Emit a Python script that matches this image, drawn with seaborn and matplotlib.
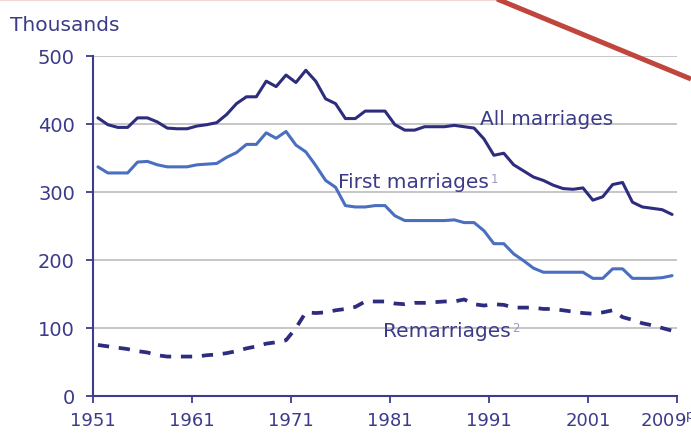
import numpy as np
import pandas as pd
import matplotlib
matplotlib.use("Agg")
import matplotlib.pyplot as plt
import seaborn as sns
from matplotlib.transforms import ScaledTranslation
from matplotlib.lines import Line2D

years = list(range(1951, 2010))
all_marriages = [409, 399, 395, 395, 409, 409, 403, 394, 393, 393,
                 397, 399, 402, 414, 430, 440, 440, 463, 455, 472,
                 461, 479, 463, 437, 430, 408, 408, 419, 419, 419,
                 399, 391, 391, 396, 396, 396, 398, 396, 394, 378,
                 354, 357, 340, 331, 322, 317, 310, 305, 304, 306,
                 288, 293, 311, 314, 285, 278, 276, 274, 267]
first_marriages = [337, 328, 328, 328, 344, 345, 340, 337, 337, 337,
                   340, 341, 342, 351, 358, 370, 370, 387, 379, 389,
                   369, 359, 339, 317, 307, 280, 278, 278, 280, 280,
                   265, 258, 258, 258, 258, 258, 259, 255, 255, 243,
                   224, 224, 209, 199, 188, 182, 182, 182, 182, 182,
                   173, 173, 187, 187, 173, 173, 173, 174, 177]
remarriages = [75, 73, 71, 69, 66, 64, 60, 58, 58, 58,
               58, 60, 61, 63, 66, 70, 73, 77, 79, 82,
               100, 123, 122, 123, 126, 128, 131, 139, 139, 139,
               136, 135, 137, 137, 138, 139, 139, 142, 135, 133,
               135, 134, 130, 130, 130, 128, 128, 126, 124, 122,
               121, 123, 126, 116, 112, 107, 104, 100, 96]
y_ticks = [0, 100, 200, 300, 400, 500]
x_tick_years = [1951, 1961, 1971, 1981, 1991, 2001, 2010]
x_tick_labels = ["1951", "1961", "1971", "1981", "1991", "2001", "2009$^{\\mathrm{p}}$"]

df = pd.DataFrame({"year": years, "all": all_marriages,
                   "first": first_marriages, "re": remarriages})

sns.set_theme(style="white")
plt.rcParams['font.family'] = ['DejaVu Sans']

NAVY = "#2d2c7e"
BLUE = "#4a6ec0"
TEXT = "#3b3b8a"
SPINE = "#3d3d8e"

fig = plt.figure(figsize=(6.91, 4.35), dpi=100)
fig.patch.set_facecolor("white")
ax = fig.add_axes([93/691, 1-397/435, (677-93)/691, (397-57)/435])
ax.set_facecolor("white")

sns.lineplot(data=df, x="year", y="all", ax=ax, color=NAVY, linewidth=2.2)
sns.lineplot(data=df, x="year", y="first", ax=ax, color=BLUE, linewidth=2.2)
sns.lineplot(data=df, x="year", y="re", ax=ax, color=NAVY, linewidth=2.7)
ax.lines[-1].set_dashes((3, 2.6))

ax.set_xlim(1950.5, 2009.5)
ax.set_ylim(0, 500)
ax.set_xlabel("")
ax.set_ylabel("")

ax.set_yticks(y_ticks)
ax.set_yticklabels([str(v) for v in y_ticks])
ax.set_xticks([y - 0.5 for y in x_tick_years])
ax.set_xticklabels(x_tick_labels)

ax.yaxis.grid(True, color="#c6c6c6", linewidth=1.4)
ax.xaxis.grid(False)
ax.set_axisbelow(True)

for s in ["top", "right"]:
    ax.spines[s].set_visible(False)
for s in ["left", "bottom"]:
    ax.spines[s].set_color(SPINE)
    ax.spines[s].set_linewidth(1.5)

ax.tick_params(axis="y", which="major", direction="out", length=5, width=1.3,
               color=SPINE, labelcolor=TEXT, labelsize=14, pad=8, left=True)
ax.tick_params(axis="x", which="major", direction="out", length=5, width=1.3,
               color=SPINE, labelcolor=TEXT, labelsize=13, pad=6, bottom=True)

last = ax.get_xticklabels()[-1]
last.set_transform(last.get_transform() + ScaledTranslation(-9/100, 0, fig.dpi_scale_trans))

fig.text(10/691, 1 - 31/435, "Thousands", color=TEXT, fontsize=14.5, ha="left", va="baseline")

t1 = ax.text(1989.6, 400, "All marriages", color=TEXT, fontsize=14.5, ha="left", va="baseline")
t2 = ax.text(1975.3, 308, "First marriages", color=TEXT, fontsize=14.5, ha="left", va="baseline")
t3 = ax.text(1979.8, 88, "Remarriages", color=TEXT, fontsize=14.5, ha="left", va="baseline")
ax.annotate("1", xy=(1.0, 1.0), xycoords=t2, xytext=(1, 0), textcoords="offset points",
            color="#9a9ac8", fontsize=8.5, ha="left", va="top")
ax.annotate("2", xy=(1.0, 1.0), xycoords=t3, xytext=(1, 0), textcoords="offset points",
            color="#9a9ac8", fontsize=8.5, ha="left", va="top")

fig.add_artist(Line2D([0, 497/691], [1 - 0.8/435, 1 - 0.8/435], transform=fig.transFigure,
                      color="#f3d6d6", linewidth=1.5))
fig.add_artist(Line2D([497/691, 1.0], [1.0, 1 - 80/435], transform=fig.transFigure,
                      color="#c0463d", linewidth=3.6, solid_capstyle="butt"))

fig.savefig("out.png", dpi=100, facecolor="white")
